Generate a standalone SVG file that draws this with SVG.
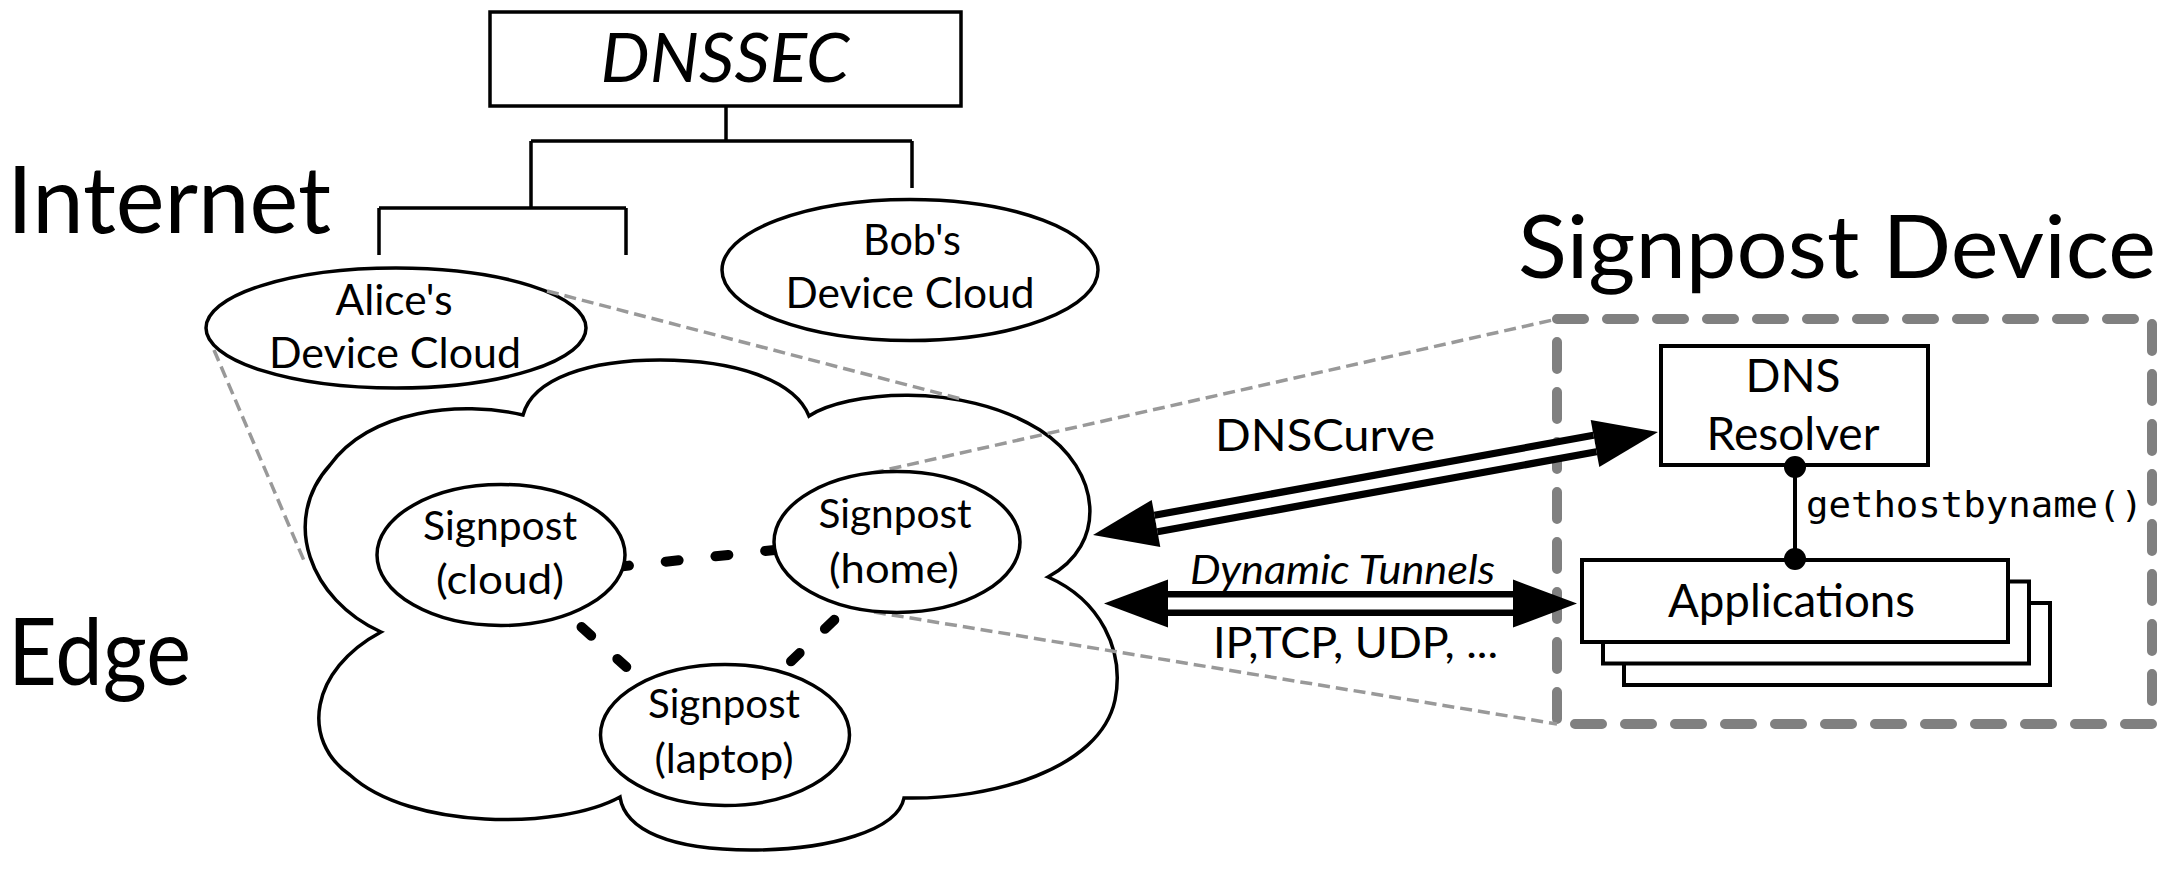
<svg xmlns="http://www.w3.org/2000/svg" width="2162" height="870" viewBox="0 0 2162 870">
<defs>
<style>
.t{font-family:Lato,"Open Sans","Liberation Sans",sans-serif;fill:#000}
.m{font-family:"DejaVu Sans Mono","Liberation Mono",monospace;fill:#000}
.n{fill:#fff;stroke:#000;stroke-width:3.5}
.box{fill:#fff;stroke:#000;stroke-width:4}
.tree{fill:none;stroke:#000;stroke-width:3.5}
.gray{fill:none;stroke:#999;stroke-width:3.5;stroke-dasharray:12 6}
.bd{fill:none;stroke:#000;stroke-width:10;stroke-linecap:round}
.shaft{fill:none;stroke:#000;marker-start:url(#ah);marker-end:url(#ah)}
.inner{fill:none;stroke:#fff}
</style>
<marker id="ah" markerUnits="userSpaceOnUse" viewBox="0 -30 80 60" markerWidth="80" markerHeight="60" refX="0" refY="0" orient="auto-start-reverse" overflow="visible">
<path d="M0,-24 L64,0 L0,24 Z" fill="#000"/>
</marker>
</defs>
<rect width="2162" height="870" fill="#fff"/>

<g id="labels">
<text class="t" x="7" y="233" font-size="93" textLength="324" lengthAdjust="spacingAndGlyphs">Internet</text>
<text class="t" x="8" y="685" font-size="94" textLength="183" lengthAdjust="spacingAndGlyphs">Edge</text>
</g>

<g id="dnssec">
<rect x="490" y="12" width="471" height="94" class="n"/>
<text class="t" x="725" y="82" font-size="68" font-style="italic" text-anchor="middle" textLength="249" lengthAdjust="spacingAndGlyphs">DNSSEC</text>
</g>

<g id="alice">
<ellipse cx="396" cy="328" rx="190" ry="60" class="n"/>
<text class="t" x="394" y="315" font-size="42" text-anchor="middle" textLength="117" lengthAdjust="spacingAndGlyphs">Alice's</text>
<text class="t" x="395" y="368" font-size="42" text-anchor="middle" textLength="252" lengthAdjust="spacingAndGlyphs">Device Cloud</text>
</g>

<g id="bob">
<ellipse cx="910" cy="270" rx="188" ry="70.5" class="n"/>
<text class="t" x="912" y="255" font-size="42" text-anchor="middle" textLength="98" lengthAdjust="spacingAndGlyphs">Bob's</text>
<text class="t" x="910" y="308" font-size="42" text-anchor="middle" textLength="249" lengthAdjust="spacingAndGlyphs">Device Cloud</text>
</g>

<g id="edge-cloud">
<path class="n" d="M523,415 C533,378 590,360 660,360 C735,360 795,380 809,416 C845,392 960,380 1040,430 C1102,470 1108,545 1048,577 C1100,600 1125,650 1115,700 C1100,770 990,800 904,798 C898,830 830,850 751,850 C670,850 625,830 620,797 C560,830 410,830 350,775 C300,740 310,670 381,632 C310,600 280,520 330,465 C370,410 460,400 523,415 Z"/>
</g>

<g id="signpost-device">
<rect x="1557" y="319" width="595" height="405" fill="none" stroke="#808080" stroke-width="10" stroke-dasharray="27 23" stroke-linecap="round"/>
<text class="t" x="1518" y="278" font-size="88" textLength="638" lengthAdjust="spacingAndGlyphs">Signpost Device</text>
</g>

<g id="dns-resolver">
<rect x="1661" y="346" width="267" height="119" class="box"/>
<text class="t" x="1793" y="392" font-size="46" text-anchor="middle" textLength="95" lengthAdjust="spacingAndGlyphs">DNS</text>
<text class="t" x="1793" y="450" font-size="46" text-anchor="middle" textLength="173" lengthAdjust="spacingAndGlyphs">Resolver</text>
</g>

<g id="applications">
<rect x="1624" y="603" width="426" height="82" class="box"/>
<rect x="1603" y="581.5" width="426" height="82" class="box"/>
<rect x="1582" y="560" width="426" height="82" class="box"/>
<text class="t" x="1791.5" y="617" font-size="46" text-anchor="middle" textLength="247" lengthAdjust="spacingAndGlyphs">Applications</text>
</g>

<g id="connectors">
<path class="tree" d="M726,106 V141 M531,141 H912 M531,141 V208 M912,141 V188 M379,208 H626 M379,208 V255 M626,208 V255"/>
<path class="gray" d="M547,291 L965,400"/>
<path class="gray" d="M214,350 L305,563"/>
<path class="gray" d="M872,473 L1557,319"/>
<path class="gray" d="M874,612 L1557,724"/>
<path class="bd" stroke-dasharray="13 37" d="M616,567 L777,549.7"/>
<path class="bd" stroke-dasharray="13 35" d="M581.5,627 L626.3,666.9"/>
<path class="bd" stroke-dasharray="13 35" d="M834.3,619.8 L791,661.3"/>
<path class="shaft" stroke-width="24" d="M1156,523.5 L1595,443.5"/>
<path class="inner" stroke-width="9.5" d="M1156,523.5 L1595,443.5"/>
<path class="shaft" stroke-width="25" d="M1168,603.5 L1513,603.5"/>
<path class="inner" stroke-width="12" d="M1168,603.5 L1513,603.5"/>
<text class="t" x="1325" y="451" font-size="44" text-anchor="middle" textLength="220" lengthAdjust="spacingAndGlyphs">DNSCurve</text>
<text class="t" x="1342.5" y="584" font-size="40" font-style="italic" text-anchor="middle" textLength="305" lengthAdjust="spacingAndGlyphs">Dynamic Tunnels</text>
<text class="t" x="1355.5" y="658" font-size="43" text-anchor="middle" textLength="285" lengthAdjust="spacingAndGlyphs">IP,TCP, UDP, ...</text>
<path d="M1795,467 V559" stroke="#000" stroke-width="4"/>
<circle cx="1795" cy="467" r="11" fill="#000"/>
<circle cx="1795" cy="559" r="11" fill="#000"/>
<text class="m" x="1806" y="517" font-size="36" textLength="337" lengthAdjust="spacingAndGlyphs">gethostbyname()</text>
</g>

<g id="signpost-cloud">
<ellipse cx="501" cy="555" rx="124" ry="70.5" class="n"/>
<text class="t" x="500" y="540" font-size="40" text-anchor="middle" textLength="154" lengthAdjust="spacingAndGlyphs">Signpost</text>
<text class="t" x="500" y="594" font-size="40" text-anchor="middle" textLength="128" lengthAdjust="spacingAndGlyphs">(cloud)</text>
</g>

<g id="signpost-home">
<ellipse cx="897" cy="542" rx="123" ry="70.5" class="n"/>
<text class="t" x="895" y="528" font-size="40" text-anchor="middle" textLength="153" lengthAdjust="spacingAndGlyphs">Signpost</text>
<text class="t" x="894" y="583" font-size="40" text-anchor="middle" textLength="130" lengthAdjust="spacingAndGlyphs">(home)</text>
</g>

<g id="signpost-laptop">
<ellipse cx="725" cy="735" rx="124.5" ry="70.5" class="n"/>
<text class="t" x="724" y="718" font-size="40" text-anchor="middle" textLength="152" lengthAdjust="spacingAndGlyphs">Signpost</text>
<text class="t" x="724" y="773" font-size="40" text-anchor="middle" textLength="139" lengthAdjust="spacingAndGlyphs">(laptop)</text>
</g>
</svg>
